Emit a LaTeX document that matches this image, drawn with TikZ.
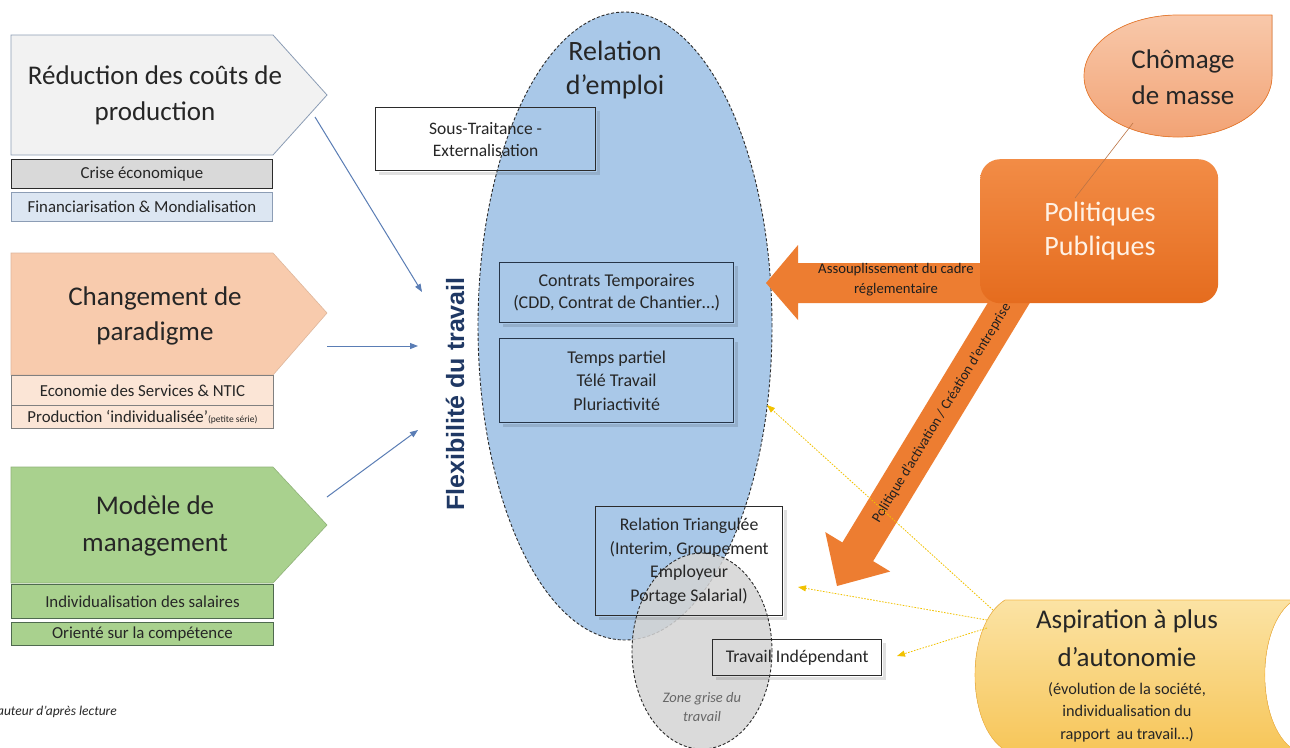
\documentclass[tikz,border=0pt]{standalone}
\usepackage{fontspec}
\setmainfont{Carlito}
\newfontfamily\flexfont{Liberation Sans}
\usetikzlibrary{arrows.meta,shapes.geometric}
\definecolor{txt}{HTML}{262626}
\definecolor{navy}{HTML}{1F3864}
\definecolor{penA}{HTML}{F2F2F2}
\definecolor{penAb}{HTML}{8C9DB5}
\definecolor{subA}{HTML}{D9D9D9}
\definecolor{subB}{HTML}{DCE6F2}
\definecolor{penB}{HTML}{F8CBAD}
\definecolor{subC}{HTML}{FBE5D6}
\definecolor{penC}{HTML}{A9D18E}
\definecolor{subCb}{HTML}{4F6A4F}
\definecolor{ellblue}{HTML}{A9C8E8}
\definecolor{ellgray}{HTML}{D4D4D4}
\definecolor{orA}{HTML}{F28C46}
\definecolor{orB}{HTML}{E56C1E}
\definecolor{orMid}{HTML}{ED7D31}
\definecolor{salA}{HTML}{F8C8AA}
\definecolor{salB}{HTML}{F2A375}
\definecolor{yelA}{HTML}{FBE3A4}
\definecolor{yelB}{HTML}{F7C65A}
\definecolor{yarrow}{HTML}{F2C200}
\definecolor{barrow}{HTML}{5A7DB5}
\definecolor{boxline}{HTML}{2B2B2B}
\definecolor{boxnavy}{HTML}{263548}
\begin{document}
\begin{tikzpicture}[x=1pt,y=-1pt,
  bigtext/.style={text=txt, align=center, inner sep=0pt},
  subbox/.style={draw, line width=0.9pt, inner sep=0pt, text=txt,
     font=\fontsize{16.8}{18}\selectfont, anchor=north west},
  framebox/.style={draw=boxline, line width=1.3pt, inner sep=0pt, text=txt,
     align=center, anchor=north west},
  softshadow/.style={draw=black, draw opacity=0.12, line width=3pt},
  bluearr/.style={draw=barrow, line width=1pt, -{Triangle[length=8pt,width=6pt]}},
  yelarr/.style={draw=yarrow, line width=0.8pt, dash pattern=on 1.6pt off 1.4pt,
     -{Triangle[length=8pt,width=6pt]}},
  dashell/.style={ellipse, draw=boxline, line width=0.9pt, dash pattern=on 3pt off 2pt, inner sep=0pt}
]
\clip (0,0) rectangle (1290,747);
\fill[white] (0,0) rectangle (1290,747);

% ---------- left pentagons ----------
\filldraw[fill=penA, draw=penAb, line width=0.8pt]
  (11,35) -- (273,35) -- (327,95) -- (273,155) -- (11,155) -- cycle;
\node[bigtext, font=\fontsize{27}{36}\selectfont] (red) at (155,95)
  {Réduction des coûts de\\production};
\node[subbox, fill=subA, draw=boxline, minimum width=261, minimum height=29] (crise)
  at (11,159) {Crise économique};
\node[subbox, fill=subB, draw=penAb, minimum width=261, minimum height=29] (fin)
  at (11,192) {Financiarisation \& Mondialisation};

\filldraw[fill=penB, draw=penB!90!black, line width=0.6pt]
  (11,253) -- (273,253) -- (327,313) -- (273,375) -- (11,375) -- cycle;
\node[bigtext, font=\fontsize{27}{35}\selectfont] (chg) at (155,315.5)
  {Changement de\\paradigme};
\node[subbox, fill=subC, draw=gray, minimum width=262, minimum height=30] (eco)
  at (11,375) {Economie des Services \& NTIC};
\node[subbox, fill=subC, draw=gray, minimum width=262, minimum height=23] (prod)
  at (11,405) {Production ‘individualisée’{\fontsize{9.5}{10}\selectfont(petite série)}};

\filldraw[fill=penC, draw=penC!85!black, line width=0.6pt]
  (11,467) -- (273,467) -- (327,525) -- (273,583) -- (11,583) -- cycle;
\node[bigtext, font=\fontsize{27}{37}\selectfont] (mod) at (155,526)
  {Modèle de\\management};
\node[subbox, fill=penC, draw=subCb, minimum width=262, minimum height=34] (ind)
  at (11,584) {Individualisation des salaires};
\node[subbox, fill=penC, draw=subCb, minimum width=262, minimum height=23] (ori)
  at (11,622) {Orienté sur la compétence};

\node[anchor=east, inner sep=0pt, text=txt, font=\fontsize{13.5}{14}\selectfont\itshape] (src)
  at (117,712) {auteur d’après lecture};

% ---------- blue arrows ----------
\coordinate (b1s) at (315,117); \coordinate (b1e) at (422,292);
\coordinate (b2s) at (327,346); \coordinate (b2e) at (418,346);
\coordinate (b3s) at (327,497); \coordinate (b3e) at (418,430);
\draw[bluearr] (b1s) -- (b1e);
\draw[bluearr] (b2s) -- (b2e);
\draw[bluearr] (b3s) -- (b3e);

\node[rotate=90, inner sep=0pt, text=navy, font=\flexfont\bfseries\fontsize{25}{28}\selectfont] (flex)
  at (455,394) {Flexibilité du travail};

% ---------- ellipses ----------
\node[dashell, fill=ellblue, minimum width=294, minimum height=628] (rel) at (625,326) {};
\node[dashell, fill=ellgray, fill opacity=0.85, minimum width=140, minimum height=196] (zone) at (702,651) {};
\node[bigtext, font=\fontsize{28}{34}\selectfont] (reltxt) at (615,70) {Relation\\d’emploi};
\node[bigtext, text=gray!80!black, font=\fontsize{14.5}{19}\selectfont\itshape] (zonetxt) at (702,707.5)
  {Zone grise du\\travail};

% ---------- boxes ----------
\node[framebox, minimum width=220, minimum height=63,
  font=\fontsize{17.5}{22}\selectfont] (sous) at (375,107) {Sous-Traitance -\\Externalisation};
\node[framebox, draw=boxnavy, minimum width=234, minimum height=60,
  font=\fontsize{18}{22}\selectfont] (cont) at (499,262) {Contrats Temporaires\\(CDD, Contrat de Chantier…)};
\node[framebox, draw=boxnavy, minimum width=234, minimum height=84,
  font=\fontsize{18}{23.5}\selectfont] (temps) at (499,338) {Temps partiel\\Télé Travail\\Pluriactivité};
\node[framebox, minimum width=187, minimum height=109,
  font=\fontsize{17.8}{23.5}\selectfont] (tri) at (595,506)
  {Relation Triangulée\\(Interim, Groupement\\Employeur\\Portage Salarial)};
\node[framebox, minimum width=169, minimum height=36,
  font=\fontsize{17.8}{20}\selectfont] (indep) at (712,639) {Travail Indépendant};
\foreach \b in {sous,cont,temps,tri,indep}{
  \draw[softshadow] ([xshift=4pt,yshift=-2.5pt]\b.south west) -- ([xshift=2.5pt,yshift=-2.5pt]\b.south east)
     -- ([xshift=2.5pt,yshift=-4pt]\b.north east);
}

% ---------- Chômage ----------
\filldraw[top color=salA, bottom color=salB, draw=orMid, line width=0.7pt]
  (1178,15) .. controls (1126,15) and (1084,42) .. (1084,76)
  .. controls (1084,110) and (1126,137) .. (1178,137)
  .. controls (1230,137) and (1272,110) .. (1272,76)
  -- (1272,15) -- cycle;
\node[bigtext, font=\fontsize{27}{36}\selectfont] (chom) at (1183,77) {Chômage\\de masse};

% ---------- horizontal fat arrow ----------
\fill[orMid] (766,283) -- (798,245) -- (798,263) -- (1010,263) -- (1010,303)
  -- (798,303) -- (798,320) -- cycle;
\node[bigtext, text=txt!80!black, font=\fontsize{14.7}{20}\selectfont] (assoupl) at (896,280)
  {Assouplissement du cadre\\réglementaire};

% ---------- diagonal fat arrow (drawn before the box) ----------
\begin{scope}[shift={(837,586)}, rotate=238.75]
  \fill[orMid] (0,0) -- (-40,38) -- (-40,18) -- (-375,18) -- (-375,-18) -- (-40,-18) -- (-40,-38) -- cycle;
  \coordinate (diagmid) at (-202,0);
\end{scope}

% ---------- Politiques ----------
\node[rounded corners=20pt, top color=orA, bottom color=orB, minimum width=238, minimum height=144,
  inner sep=0pt, anchor=north west] (pol) at (980,159) {};
\node[bigtext, text=white!90!orange, font=\fontsize{28}{34}\selectfont] (poltxt) at (1100,231)
  {Politiques\\Publiques};
\coordinate (chomlink) at (1133,123);
\coordinate (pollink) at (1075,198);
\draw[draw=orB!60!gray, line width=0.6pt] (chomlink) -- (pollink);

\node[inner sep=0pt, rotate=58.75, text=txt!85!black, font=\fontsize{14.2}{15}\selectfont] (activ)
  at (diagmid) {Politique d’activation / Création d’entreprise};

% ---------- Aspiration ----------
\filldraw[top color=yelA, bottom color=yelB, draw=yelB!85!orange, line width=0.6pt]
  (1005,600) -- (1294,600) .. controls (1255,625) and (1255,725) .. (1294,750)
  -- (1005,750) .. controls (965,725) and (965,625) .. cycle;
\node[bigtext, font=\fontsize{27}{38}\selectfont] (asp) at (1127,638) {Aspiration à plus\\d’autonomie};
\node[bigtext, font=\fontsize{16.3}{22.5}\selectfont] (asp2) at (1127,712)
  {(évolution de la société,\\individualisation du\\rapport\ \,au travail…)};

% ---------- yellow arrows ----------
\coordinate (y1s) at (993,610); \coordinate (y1e) at (767,405);
\coordinate (y2s) at (987,620); \coordinate (y2e) at (798,587);
\coordinate (y3s) at (987,628); \coordinate (y3e) at (897,656);
\draw[yelarr] (y1s) -- (y1e);
\draw[yelarr] (y2s) -- (y2e);
\draw[yelarr] (y3s) -- (y3e);
\end{tikzpicture}
\end{document}
